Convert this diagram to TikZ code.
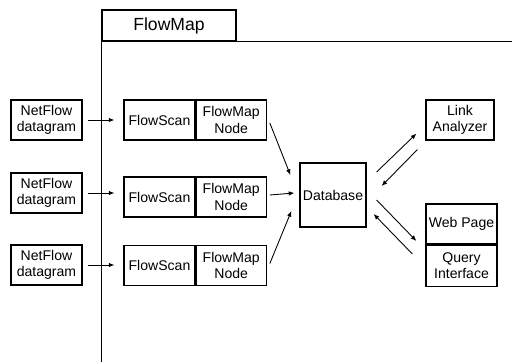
\documentclass[tikz,border=0pt]{standalone}
\usepackage{fontspec}
\setsansfont{Liberation Sans}
\usepackage{tikz}
\usetikzlibrary{arrows.meta,positioning,calc}

\tikzset{
  blk/.style={draw,line width=0.7pt,align=center,inner sep=0pt,
    minimum width=1.42cm,minimum height=0.8cm},
  flow/.style={->,line width=0.5pt}
}

\begin{document}
\begin{tikzpicture}[>={Latex[length=3.2pt,width=2.6pt]},x=0.02cm,y=-0.02cm,
    every node/.style={font=\sffamily\fontsize{8}{9.5}\selectfont}]
  \useasboundingbox (0,0) rectangle (512,363);

  % FlowMap frame
  \node[blk,minimum width=2.68cm,minimum height=0.62cm,
        font=\sffamily\fontsize{10}{12}\selectfont] (tab) at (169,25.5) {FlowMap};
  \draw[line width=0.7pt] (tab.north west) -- (tab.north west |- 0,362);
  \draw[line width=0.7pt] (tab.south west) -- (tab.south west -| 512,0);

  % collectors and scanners
  \foreach \i/\y/\z in {1/120/120, 2/193/197, 3/265/265.5} {
    \node[blk] (nf\i) at (46.5,\y) {NetFlow\\datagram};
    \node[blk] (fs\i) at (159.5,\z) {FlowScan};
    \node[blk,minimum width=1.4cm,anchor=west] (fm\i) at (fs\i.east) {FlowMap\\Node};
    \draw[flow,shorten <=5*0.02cm,shorten >=9*0.02cm] (nf\i.east) -- (nf\i.east -| fs\i.west);
  }

  \node[blk,minimum width=1.32cm,minimum height=1.28cm] (db) at (333,195) {Database};
  \node[blk,minimum width=1.36cm] (la) at (460,120) {Link\\Analyzer};
  \node[blk] (wp) at (461.5,224) {Web Page};
  \node[blk,minimum height=0.82cm,anchor=north] (qi) at (wp.south) {Query\\Interface};

  \draw[flow] ($(fm1.east)+(3,3)$) -- ($(db.west)+(-9,-20)$);
  \draw[flow] ($(fm2.east)+(3,-2)$) -- ($(db.west)+(-5,-2)$);
  \draw[flow] ($(fm3.east)+(3,-2)$) -- ($(db.west)+(-8,16)$);

  \draw[flow] ($(db.east)+(10,-23)$) -- ($(la.south west)+(-9,-7)$);
  \draw[flow] ($(la.south west)+(-8,9)$) -- ($(db.east)+(15,-9)$);
  \draw[flow] ($(db.east)+(10,5)$) -- ($(wp.west)+(-9,17)$);
  \draw[flow] ($(wp.west)+(-13,30)$) -- ($(db.east)+(7,19)$);
\end{tikzpicture}
\end{document}
